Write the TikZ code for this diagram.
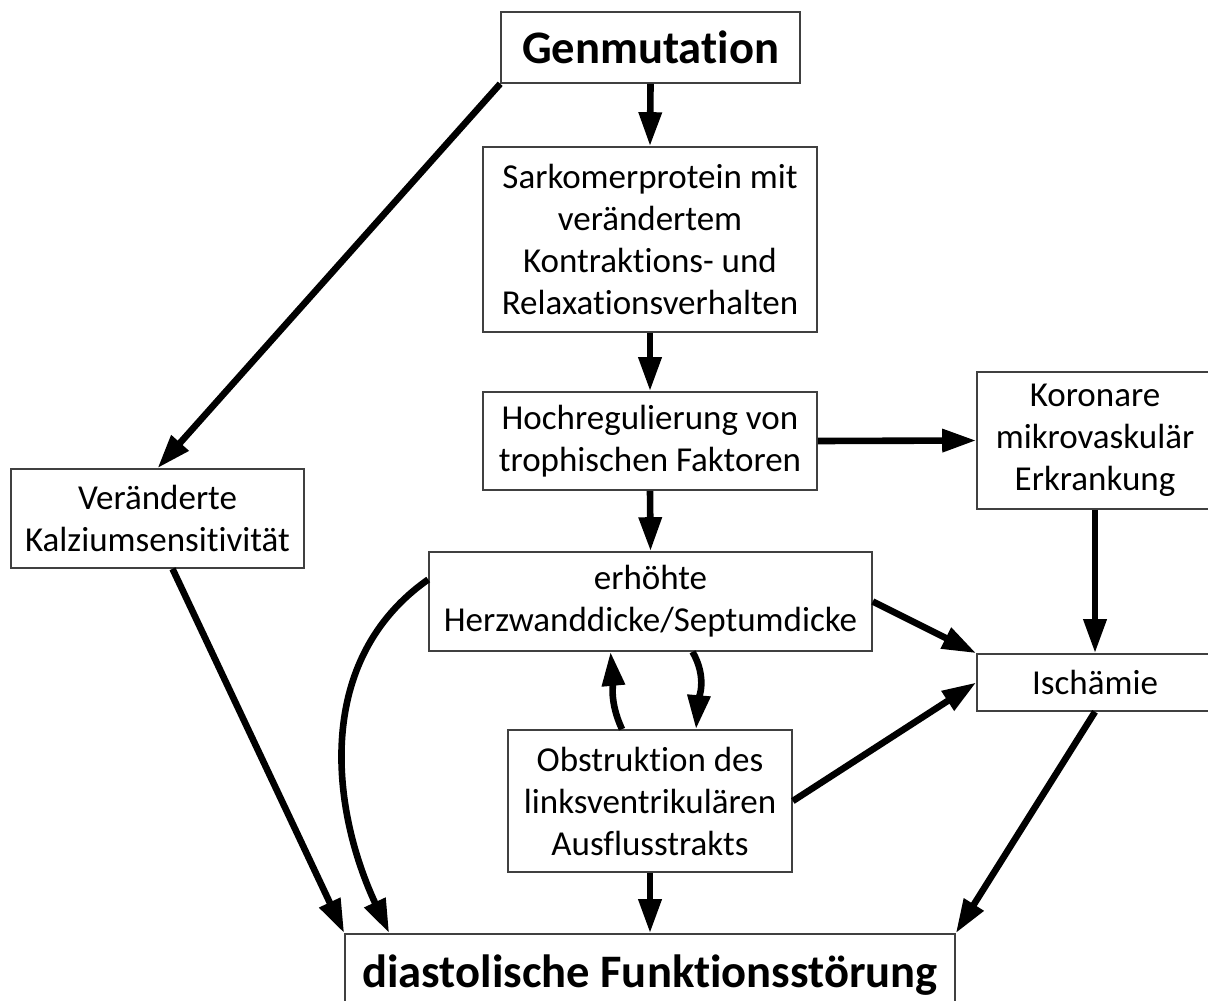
\documentclass[tikz,border=0pt]{standalone}
\usepackage{fontspec}
\setmainfont{Carlito}[Ligatures=NoCommon]
\usepackage{tikz}
\usetikzlibrary{arrows.meta}

\tikzset{
  box/.style={draw=black!75,line width=0.8pt,align=center,inner sep=0pt,
    font=\fontsize{17.5}{21}\selectfont},
  bigbox/.style={box,font=\fontsize{23.3}{28}\selectfont\bfseries},
  arr/.style={-{Triangle[length=17pt,width=11pt]},line width=3.3pt},
}

\begin{document}
\begin{tikzpicture}[x=0.5pt,y=-0.5pt]
\useasboundingbox (0,0) rectangle (1208,1000);
\clip (0,0) rectangle (1208,1000);

% sizes in pt (half of the pixel sizes)
\node[bigbox,minimum width=149.5pt,minimum height=35.5pt] (gen) at (650.5,47.5) {Genmutation};
\node[box,minimum width=167pt,minimum height=92.5pt] (sarko) at (650,239.5)
  {Sarkomerprotein mit\\verändertem\\Kontraktions- und\\Relaxationsverhalten};
\node[box,minimum width=167pt,minimum height=49pt] (hoch) at (650,441)
  {Hochregulierung von\\trophischen Faktoren};
\node[box,minimum width=118pt,minimum height=68.5pt] (koro) at (1095,440.5)
  {Koronare\\mikrovaskulär\\Erkrankung};
\node[box,minimum width=146.5pt,minimum height=49.5pt] (kalz) at (157.5,518.5)
  {Veränderte\\Kalziumsensitivität};
\node[box,minimum width=221.5pt,minimum height=49.5pt] (wand) at (650.5,601.5)
  {erhöhte\\Herzwanddicke/Septumdicke};
\node[box,minimum width=118pt,minimum height=28.5pt] (isch) at (1095,682.5) {Ischämie};
\node[box,minimum width=142pt,minimum height=71pt] (obst) at (650,801)
  {Obstruktion des\\linksventrikulären\\Ausflusstrakts};
\node[bigbox,minimum width=305pt,minimum height=41pt] (dias) at (650,975)
  {diastolische Funktionsstörung};

\path (gen.south) edge [arr] (sarko.north);
\path (gen.south west) edge [arr] (kalz.north);
\path (sarko.south) edge [arr] (hoch.north);
\path (hoch.east) edge [arr] (koro.west);
\path (hoch.south) edge [arr] (wand.north);
\path (koro.south) edge [arr] (isch.north);
\path (wand.east) edge [arr] (isch.north west);
\path (obst.east) edge [arr] (isch.west);
\path (isch.south) edge [arr] (dias.north east);
\path (obst.south) edge [arr] (dias.north);
\path ([xshift=7.5pt]kalz.south) edge [arr] (dias.north west);
\path ([yshift=11pt]wand.west) edge [arr,out=215,in=115] ([xshift=22.5pt]dias.north west);
\path ([xshift=-14pt]obst.north) edge [arr,out=115,in=-85] ([xshift=-20pt]wand.south);
\path ([xshift=21pt]wand.south) edge [arr,out=-60,in=85] ([xshift=23pt]obst.north);

\end{tikzpicture}
\end{document}
